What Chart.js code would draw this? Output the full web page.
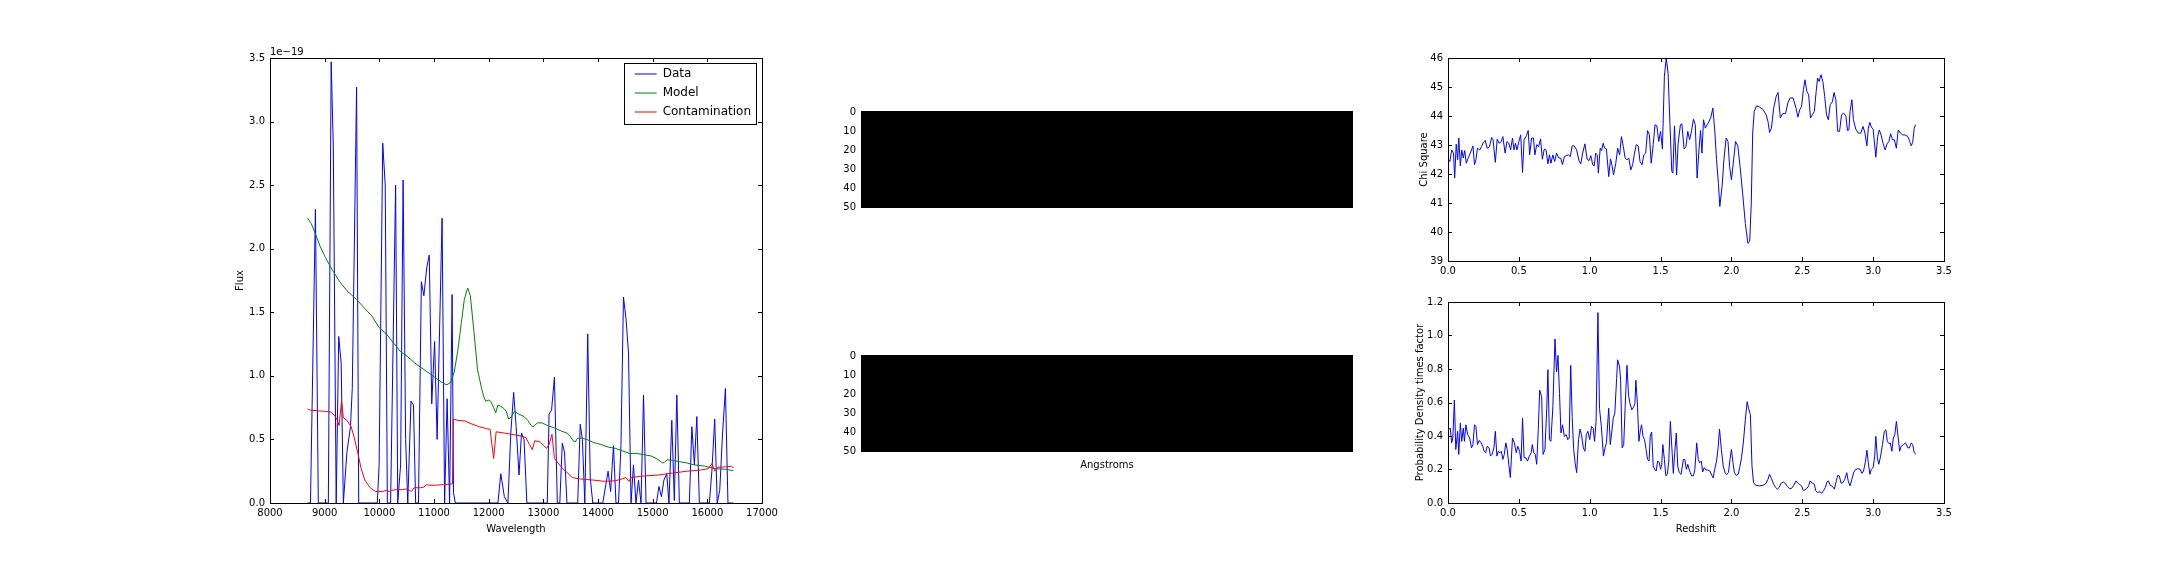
<!DOCTYPE html>
<html lang="en">
  <head>
    <meta charset="UTF-8" />
    <title>Spectrum fit and redshift</title>
    <script src="https://cdn.jsdelivr.net/npm/chart.js"></script>
    <style>
      html,
      body {
        margin: 0;
        padding: 0;
        background: #fff;
        overflow: hidden;
      }
      #figure {
        position: relative;
        width: 2160px;
        height: 576px;
        background: #fff;
      }
      #figure canvas {
        position: absolute;
        display: block;
      }
    </style>
  </head>
  <body>
    <div id="figure">
      <canvas id="spectrum"></canvas>
      <canvas id="stampTop"></canvas>
      <canvas id="stampBottom"></canvas>
      <canvas id="chiSquare"></canvas>
      <canvas id="probDensity"></canvas>
    </div>
    <script>
      // ---- data (flux in units of 1e-19) ----
      const seriesNames = ["Data", "Model", "Contamination"];
      const fluxOffsetText = "1e\u221219";

      const fluxData = [
        [8687, 0], [8740, 0], [8831, 2.31], [8884, 0], [9067, 0], [9119, 3.47], [9158, 2.8], [9211, 0],
        [9257, 1.31], [9302, 1.1], [9342, 0], [9407, 0.4], [9472, 0.6], [9505, 0.9], [9584, 3.27], [9623, 0],
        [9682, 0], [9963, 0], [9996, 0.3], [10062, 2.83], [10108, 2.5], [10147, 0], [10206, 0], [10298, 2.5],
        [10337, 0], [10389, 0.3], [10435, 2.54], [10481, 0.5], [10520, 0], [10579, 0.8], [10625, 0.77], [10664, 0],
        [10716, 0], [10769, 1.74], [10815, 1.63], [10867, 1.85], [10913, 1.95], [10959, 0.78], [11011, 1.27], [11057, 0.5],
        [11148, 2.24], [11194, 0], [11240, 0.82], [11285, 0], [11331, 1.64], [11357, 0.08], [11390, 0], [12169, 0],
        [12222, 0.23], [12287, 0.05], [12352, 0], [12405, 0.55], [12457, 0.87], [12503, 0.6], [12555, 0.22], [12601, 0.55],
        [12647, 0.5], [12699, 0], [13072, 0], [13105, 0.7], [13151, 0.73], [13203, 0.99], [13256, 0], [13301, 0],
        [13347, 0.47], [13387, 0.4], [13432, 0], [13629, 0], [13675, 0.62], [13714, 0.5], [13759, 0], [13812, 1.33],
        [13858, 0.2], [13904, 0], [14087, 0], [14185, 0.25], [14231, 0.09], [14283, 0.45], [14329, 0], [14375, 0],
        [14420, 0.45], [14466, 1.62], [14512, 1.45], [14558, 1.18], [14604, 0], [14649, 0.3], [14695, 0], [14741, 0.18],
        [14787, 0], [14833, 0.85], [14879, 0], [15003, 0], [15069, 0], [15115, 0.13], [15160, 0.05], [15206, 0.18],
        [15258, 0.23], [15298, 0], [15350, 0.65], [15396, 0.02], [15442, 0.85], [15488, 0], [15671, 0], [15717, 0.6],
        [15763, 0.3], [15808, 0.68], [15854, 0], [16037, 0], [16083, 0.25], [16135, 0.66], [16181, 0], [16227, 0.1],
        [16279, 0.55], [16331, 0.9], [16377, 0], [16476, 0],
      ];

      const modelData = [
        [8687, 2.24], [8753, 2.2], [8818, 2.13], [8916, 2.02], [9014, 1.93], [9145, 1.83], [9276, 1.74], [9407, 1.67],
        [9584, 1.6], [9734, 1.53], [9865, 1.47], [9996, 1.38], [10127, 1.33], [10258, 1.26], [10389, 1.19], [10520, 1.15],
        [10651, 1.1], [10782, 1.06], [10913, 1.02], [11044, 0.98], [11174, 0.94], [11240, 0.93], [11305, 0.95], [11370, 1.03],
        [11436, 1.2], [11501, 1.42], [11554, 1.6], [11600, 1.67], [11619, 1.69], [11665, 1.63], [11730, 1.35], [11796, 1.05],
        [11861, 0.92], [11907, 0.84], [11946, 0.8], [11992, 0.81], [12038, 0.8], [12091, 0.75], [12130, 0.71], [12169, 0.77],
        [12222, 0.76], [12287, 0.74], [12320, 0.72], [12366, 0.66], [12418, 0.68], [12470, 0.72], [12549, 0.7], [12647, 0.68],
        [12713, 0.65], [12778, 0.61], [12811, 0.6], [12844, 0.61], [12889, 0.63], [12974, 0.63], [13072, 0.61], [13203, 0.59],
        [13334, 0.565], [13432, 0.55], [13498, 0.52], [13544, 0.49], [13583, 0.48], [13629, 0.51], [13694, 0.51], [13792, 0.5],
        [13923, 0.475], [14054, 0.46], [14185, 0.44], [14316, 0.43], [14446, 0.41], [14577, 0.39], [14708, 0.39], [14839, 0.38],
        [14970, 0.37], [15069, 0.35], [15134, 0.33], [15180, 0.315], [15219, 0.32], [15265, 0.34], [15363, 0.335], [15494, 0.325],
        [15625, 0.315], [15756, 0.3], [15952, 0.29], [16148, 0.27], [16345, 0.265], [16476, 0.255],
      ];

      const contaminationData = [
        [8687, 0.74], [8740, 0.73], [8884, 0.725], [9014, 0.72], [9113, 0.715], [9178, 0.69], [9224, 0.66], [9263, 0.61],
        [9309, 0.8], [9342, 0.67], [9407, 0.65], [9485, 0.6], [9537, 0.52], [9603, 0.4], [9668, 0.27], [9734, 0.18],
        [9832, 0.12], [9930, 0.09], [10062, 0.09], [10127, 0.1], [10180, 0.09], [10225, 0.1], [10323, 0.105], [10422, 0.105],
        [10487, 0.11], [10553, 0.1], [10586, 0.09], [10638, 0.12], [10749, 0.12], [10815, 0.125], [10861, 0.145], [10913, 0.14],
        [11044, 0.14], [11174, 0.145], [11338, 0.15], [11351, 0.66], [11436, 0.65], [11567, 0.645], [11698, 0.62], [11828, 0.6],
        [11959, 0.585], [12025, 0.58], [12091, 0.35], [12137, 0.56], [12287, 0.55], [12483, 0.535], [12614, 0.525], [12680, 0.515],
        [12745, 0.46], [12798, 0.42], [12844, 0.49], [12942, 0.48], [13059, 0.43], [13105, 0.46], [13158, 0.54], [13203, 0.35],
        [13334, 0.28], [13432, 0.24], [13530, 0.2], [13661, 0.19], [13792, 0.185], [13923, 0.18], [14119, 0.17], [14316, 0.175],
        [14446, 0.19], [14512, 0.2], [14564, 0.17], [14610, 0.2], [14774, 0.21], [15101, 0.22], [15363, 0.235], [15625, 0.25],
        [15887, 0.26], [16018, 0.27], [16083, 0.31], [16135, 0.25], [16181, 0.28], [16345, 0.285], [16443, 0.29], [16476, 0.275],
      ];

      // 2D stamps (rows of pixel values, all zero -> black)
      const stampColumns = 253;
      const stampTopRows = [
        0, 0, 0, 0, 0, 0, 0, 0, 0, 0, 0, 0, 0, 0, 0, 0, 0, 0, 0, 0, 0, 0, 0, 0, 0, 0,
        0, 0, 0, 0, 0, 0, 0, 0, 0, 0, 0, 0, 0, 0, 0, 0, 0, 0, 0, 0, 0, 0, 0, 0, 0,
      ];
      const stampBottomRows = [
        0, 0, 0, 0, 0, 0, 0, 0, 0, 0, 0, 0, 0, 0, 0, 0, 0, 0, 0, 0, 0, 0, 0, 0, 0, 0,
        0, 0, 0, 0, 0, 0, 0, 0, 0, 0, 0, 0, 0, 0, 0, 0, 0, 0, 0, 0, 0, 0, 0, 0, 0,
      ];

      const chiSquareData = [
        [0.005, 42.49], [0.013, 42.43], [0.026, 42.83], [0.039, 42.72], [0.047, 41.86], [0.058, 43.03], [0.068, 42.49], [0.076, 43.24],
        [0.087, 42.28], [0.097, 42.83], [0.108, 42.55], [0.118, 42.81], [0.129, 42.37], [0.145, 42.58], [0.166, 42.83], [0.176, 42.97],
        [0.187, 42.32], [0.197, 42.49], [0.208, 42.89], [0.224, 42.83], [0.237, 42.95], [0.25, 43.09], [0.263, 43.16], [0.276, 42.89],
        [0.292, 42.93], [0.308, 43.26], [0.318, 43.18], [0.334, 42.4], [0.347, 43.2], [0.361, 43.06], [0.376, 43.12], [0.387, 43.29],
        [0.403, 42.72], [0.416, 43.12], [0.429, 43.06], [0.442, 42.83], [0.455, 43.24], [0.466, 42.83], [0.476, 43.06], [0.487, 42.83],
        [0.5, 43.12], [0.513, 43.35], [0.526, 42.05], [0.537, 43.18], [0.553, 43.32], [0.566, 43.5], [0.576, 42.66], [0.59, 43.24],
        [0.603, 43.24], [0.613, 42.66], [0.626, 43.01], [0.64, 42.95], [0.653, 43.21], [0.666, 42.51], [0.679, 42.86], [0.692, 42.83],
        [0.705, 42.35], [0.716, 42.66], [0.726, 42.37], [0.74, 42.66], [0.753, 42.43], [0.766, 42.72], [0.782, 42.55], [0.795, 42.55],
        [0.808, 42.32], [0.821, 42.6], [0.834, 42.63], [0.85, 42.66], [0.863, 42.6], [0.876, 42.97], [0.89, 42.97], [0.908, 42.83],
        [0.924, 42.46], [0.937, 42.35], [0.95, 42.72], [0.966, 43.04], [0.982, 42.51], [0.995, 42.46], [1.008, 42.63], [1.021, 42.32],
        [1.032, 42.28], [1.042, 42.72], [1.053, 42.66], [1.061, 42.03], [1.074, 42.89], [1.084, 42.81], [1.095, 43.06], [1.105, 42.89],
        [1.118, 42.86], [1.134, 41.91], [1.147, 42.52], [1.158, 42.28], [1.168, 41.97], [1.184, 42.37], [1.197, 42.89], [1.211, 42.66],
        [1.224, 43.29], [1.237, 42.95], [1.25, 42.55], [1.263, 42.49], [1.276, 42.55], [1.29, 42.14], [1.303, 42.32], [1.316, 42.72],
        [1.329, 43.01], [1.342, 42.97], [1.355, 42.43], [1.369, 42.32], [1.382, 42.66], [1.395, 42.72], [1.408, 43.5], [1.421, 43.35],
        [1.434, 42.37], [1.448, 43.01], [1.461, 43.7], [1.474, 43.66], [1.487, 43.12], [1.5, 43.47], [1.513, 42.86], [1.527, 45.37],
        [1.54, 46.0], [1.553, 45.48], [1.566, 43.75], [1.579, 42.09], [1.587, 42.03], [1.598, 43.66], [1.613, 41.97], [1.624, 43.06],
        [1.64, 43.7], [1.65, 43.73], [1.666, 42.86], [1.679, 42.95], [1.692, 43.47], [1.705, 43.18], [1.719, 43.5], [1.732, 43.89],
        [1.745, 43.7], [1.758, 41.86], [1.771, 42.83], [1.782, 43.5], [1.792, 42.72], [1.803, 43.87], [1.816, 43.58], [1.829, 43.7],
        [1.842, 43.81], [1.855, 43.96], [1.869, 44.27], [1.882, 43.52], [1.895, 42.49], [1.908, 41.68], [1.918, 40.88], [1.934, 41.57],
        [1.948, 42.55], [1.963, 43.24], [1.976, 43.12], [1.987, 42.26], [2.0, 41.8], [2.013, 42.37], [2.029, 43.12], [2.045, 42.97],
        [2.061, 42.26], [2.079, 41.34], [2.098, 40.3], [2.116, 39.61], [2.129, 39.67], [2.14, 41.0], [2.15, 43.41], [2.161, 44.16],
        [2.177, 44.35], [2.198, 44.31], [2.224, 44.22], [2.245, 44.04], [2.258, 43.81], [2.269, 43.43], [2.282, 43.58], [2.298, 44.27],
        [2.316, 44.68], [2.329, 44.81], [2.345, 43.93], [2.361, 44.08], [2.382, 44.08], [2.398, 44.45], [2.414, 44.62], [2.435, 44.62],
        [2.456, 44.27], [2.469, 43.96], [2.482, 44.22], [2.495, 44.33], [2.508, 44.91], [2.519, 45.25], [2.532, 44.85], [2.545, 44.73],
        [2.558, 43.93], [2.571, 44.04], [2.585, 44.16], [2.598, 44.85], [2.608, 45.31], [2.619, 45.19], [2.632, 45.42], [2.645, 45.19],
        [2.658, 44.68], [2.671, 44.04], [2.684, 43.87], [2.697, 44.39], [2.713, 44.5], [2.724, 44.81], [2.737, 44.56], [2.75, 43.47],
        [2.763, 43.47], [2.777, 44.04], [2.792, 44.1], [2.808, 43.99], [2.819, 43.5], [2.829, 43.52], [2.837, 44.16], [2.85, 44.56],
        [2.861, 43.87], [2.877, 43.55], [2.895, 43.41], [2.913, 43.41], [2.929, 43.64], [2.942, 43.41], [2.956, 42.97], [2.966, 43.58],
        [2.977, 43.78], [2.987, 43.62], [3.0, 43.55], [3.019, 42.58], [3.032, 43.29], [3.043, 43.52], [3.056, 43.35], [3.071, 43.04],
        [3.085, 42.83], [3.098, 43.04], [3.111, 43.12], [3.124, 43.39], [3.137, 43.18], [3.15, 43.18], [3.164, 42.89], [3.177, 43.52],
        [3.193, 43.41], [3.208, 43.35], [3.224, 43.35], [3.245, 43.29], [3.258, 43.12], [3.269, 42.97], [3.279, 43.09], [3.29, 43.58],
        [3.3, 43.7],
      ];

      const probDensityData = [
        [0.005, 0.437], [0.016, 0.447], [0.026, 0.359], [0.034, 0.388], [0.045, 0.615], [0.055, 0.319], [0.068, 0.428], [0.076, 0.29],
        [0.087, 0.477], [0.097, 0.368], [0.108, 0.447], [0.116, 0.368], [0.126, 0.467], [0.139, 0.408], [0.153, 0.388], [0.166, 0.329],
        [0.176, 0.349], [0.187, 0.467], [0.197, 0.457], [0.208, 0.349], [0.221, 0.374], [0.234, 0.359], [0.245, 0.339], [0.255, 0.309],
        [0.266, 0.3], [0.276, 0.339], [0.29, 0.329], [0.3, 0.28], [0.311, 0.29], [0.324, 0.329], [0.334, 0.428], [0.345, 0.28],
        [0.355, 0.309], [0.366, 0.3], [0.376, 0.309], [0.387, 0.26], [0.397, 0.29], [0.408, 0.359], [0.418, 0.319], [0.429, 0.231],
        [0.44, 0.152], [0.455, 0.388], [0.468, 0.359], [0.482, 0.3], [0.492, 0.339], [0.505, 0.309], [0.516, 0.25], [0.526, 0.506],
        [0.537, 0.27], [0.55, 0.27], [0.561, 0.25], [0.574, 0.28], [0.587, 0.3], [0.595, 0.349], [0.605, 0.3], [0.616, 0.29],
        [0.626, 0.231], [0.637, 0.437], [0.647, 0.674], [0.661, 0.634], [0.671, 0.29], [0.684, 0.319], [0.697, 0.566], [0.705, 0.796],
        [0.716, 0.378], [0.726, 0.368], [0.74, 0.575], [0.755, 0.979], [0.766, 0.782], [0.776, 0.881], [0.787, 0.654], [0.797, 0.418],
        [0.808, 0.467], [0.821, 0.398], [0.834, 0.408], [0.845, 0.378], [0.855, 0.388], [0.866, 0.822], [0.876, 0.516], [0.887, 0.319],
        [0.897, 0.24], [0.908, 0.181], [0.921, 0.378], [0.932, 0.441], [0.942, 0.408], [0.955, 0.329], [0.966, 0.309], [0.976, 0.408],
        [0.987, 0.428], [1.0, 0.378], [1.013, 0.457], [1.024, 0.447], [1.034, 0.368], [1.045, 0.487], [1.058, 1.137], [1.069, 0.566],
        [1.082, 0.457], [1.097, 0.28], [1.108, 0.329], [1.118, 0.359], [1.134, 0.566], [1.145, 0.349], [1.155, 0.418], [1.166, 0.506],
        [1.177, 0.536], [1.19, 0.743], [1.197, 0.855], [1.211, 0.812], [1.218, 0.733], [1.229, 0.329], [1.24, 0.349], [1.25, 0.575],
        [1.263, 0.822], [1.274, 0.644], [1.284, 0.595], [1.297, 0.556], [1.311, 0.575], [1.319, 0.595], [1.326, 0.733], [1.337, 0.585],
        [1.347, 0.368], [1.358, 0.437], [1.366, 0.467], [1.376, 0.398], [1.387, 0.378], [1.398, 0.319], [1.408, 0.26], [1.419, 0.25],
        [1.427, 0.398], [1.437, 0.424], [1.448, 0.221], [1.458, 0.201], [1.469, 0.191], [1.479, 0.25], [1.49, 0.244], [1.5, 0.201],
        [1.508, 0.231], [1.516, 0.349], [1.527, 0.26], [1.537, 0.162], [1.548, 0.171], [1.558, 0.25], [1.569, 0.487], [1.579, 0.339],
        [1.59, 0.177], [1.6, 0.3], [1.611, 0.418], [1.621, 0.221], [1.632, 0.181], [1.645, 0.171], [1.661, 0.26], [1.671, 0.26],
        [1.682, 0.201], [1.692, 0.231], [1.705, 0.191], [1.719, 0.162], [1.732, 0.162], [1.742, 0.201], [1.755, 0.359], [1.766, 0.26],
        [1.776, 0.24], [1.787, 0.25], [1.797, 0.185], [1.808, 0.211], [1.821, 0.197], [1.834, 0.197], [1.848, 0.191], [1.863, 0.162],
        [1.871, 0.15], [1.882, 0.201], [1.895, 0.25], [1.906, 0.329], [1.916, 0.441], [1.929, 0.319], [1.942, 0.221], [1.955, 0.181],
        [1.966, 0.171], [1.979, 0.181], [1.99, 0.26], [2.0, 0.319], [2.011, 0.24], [2.021, 0.181], [2.034, 0.165], [2.048, 0.171],
        [2.058, 0.211], [2.071, 0.27], [2.084, 0.359], [2.098, 0.497], [2.111, 0.605], [2.121, 0.566], [2.134, 0.526], [2.145, 0.221],
        [2.156, 0.122], [2.171, 0.106], [2.198, 0.102], [2.224, 0.106], [2.245, 0.118], [2.258, 0.142], [2.269, 0.171], [2.282, 0.146],
        [2.298, 0.112], [2.311, 0.093], [2.324, 0.083], [2.337, 0.093], [2.35, 0.118], [2.366, 0.126], [2.379, 0.118], [2.395, 0.099],
        [2.408, 0.087], [2.424, 0.087], [2.44, 0.106], [2.456, 0.132], [2.469, 0.118], [2.482, 0.11], [2.495, 0.102], [2.508, 0.073],
        [2.519, 0.079], [2.532, 0.087], [2.545, 0.102], [2.555, 0.132], [2.571, 0.118], [2.585, 0.112], [2.595, 0.073], [2.608, 0.063],
        [2.624, 0.067], [2.637, 0.059], [2.65, 0.073], [2.663, 0.093], [2.674, 0.126], [2.684, 0.132], [2.697, 0.106], [2.713, 0.099],
        [2.726, 0.083], [2.74, 0.132], [2.75, 0.165], [2.761, 0.162], [2.774, 0.118], [2.787, 0.122], [2.8, 0.142], [2.814, 0.181],
        [2.824, 0.132], [2.837, 0.102], [2.85, 0.142], [2.864, 0.185], [2.877, 0.201], [2.895, 0.205], [2.908, 0.201], [2.921, 0.177],
        [2.932, 0.191], [2.945, 0.244], [2.956, 0.315], [2.966, 0.24], [2.977, 0.171], [2.987, 0.201], [3.0, 0.211], [3.011, 0.28],
        [3.019, 0.398], [3.03, 0.27], [3.04, 0.231], [3.053, 0.28], [3.066, 0.349], [3.079, 0.428], [3.09, 0.437], [3.1, 0.368],
        [3.111, 0.355], [3.121, 0.359], [3.132, 0.309], [3.142, 0.388], [3.153, 0.408], [3.164, 0.487], [3.177, 0.388], [3.187, 0.309],
        [3.198, 0.339], [3.214, 0.349], [3.229, 0.359], [3.245, 0.329], [3.256, 0.329], [3.269, 0.359], [3.279, 0.349], [3.29, 0.3],
        [3.303, 0.29],
      ];

      // tick labels
      const wavelengthTicks = [8000, 9000, 10000, 11000, 12000, 13000, 14000, 15000, 16000, 17000];
      const fluxTicks = [0, 0.5, 1, 1.5, 2, 2.5, 3, 3.5];
      const stampRowTicks = [0, 10, 20, 30, 40, 50];
      const redshiftTicks = [0, 0.5, 1, 1.5, 2, 2.5, 3, 3.5];
      const chiTicks = [39, 40, 41, 42, 43, 44, 45, 46];
      const probTicks = [0, 0.2, 0.4, 0.6, 0.8, 1.0, 1.2];

      // ---- layout: plot boxes in page pixels, margins around them ----
      const panels = {
        spectrum: { x: 270, y: 58, w: 492, h: 445, m: { l: 36, t: 20, r: 24, b: 32 } },
        stampTop: { x: 861, y: 110, w: 492, h: 99, m: { l: 30, t: 10, r: 10, b: 10 } },
        stampBottom: { x: 861, y: 354, w: 492, h: 98, m: { l: 30, t: 10, r: 10, b: 19 } },
        chiSquare: { x: 1448, y: 58, w: 496, h: 203, m: { l: 30, t: 12, r: 24, b: 22 } },
        probDensity: { x: 1448, y: 302, w: 496, h: 201, m: { l: 34, t: 12, r: 24, b: 32 } },
      };

      Chart.defaults.font.family = "'DejaVu Sans', sans-serif";
      Chart.defaults.font.size = 10;
      Chart.defaults.color = "#000";
      Chart.defaults.animation = false;
      Chart.defaults.events = [];

      const fmt1 = (v) => Number(v).toFixed(1);
      const fmtInt = (v) => String(Math.round(v));
      const toPoints = (pairs) => pairs.map((p) => ({ x: p[0], y: p[1] }));
      const gray = (v) => {
        const c = Math.round(255 * v);
        return "rgb(" + c + "," + c + "," + c + ")";
      };

      function setupCanvas(id) {
        const p = panels[id];
        const cv = document.getElementById(id);
        const w = p.w + p.m.l + p.m.r;
        const h = p.h + p.m.t + p.m.b;
        cv.width = w;
        cv.height = h;
        cv.style.width = w + "px";
        cv.style.height = h + "px";
        cv.style.left = p.x - p.m.l + "px";
        cv.style.top = p.y - p.m.t + "px";
        return cv;
      }

      function axis(min, max, tickValues, format, size, title, pad) {
        return {
          type: "linear",
          min: min,
          max: max,
          grid: { display: false, drawTicks: false },
          border: { display: false },
          ticks: { autoSkip: false, maxRotation: 0, minRotation: 0, padding: pad, callback: format },
          afterBuildTicks: (s) => {
            s.ticks = tickValues.map((v) => ({ value: v }));
          },
          afterFit: (s) => {
            if (s.isHorizontal()) s.height = size;
            else s.width = size;
          },
          title: { display: !!title, text: title || "", padding: 0 },
        };
      }

      // frame with inward ticks on all four sides
      const frameTicks = {
        id: "frameTicks",
        afterDatasetsDraw(chart) {
          const { ctx, chartArea: a } = chart;
          const xs = chart.scales.x;
          const ys = chart.scales.y;
          const len = 4;
          ctx.save();
          ctx.strokeStyle = "#000";
          ctx.lineWidth = 1;
          ctx.beginPath();
          xs.ticks.forEach((t) => {
            const px = Math.round(xs.getPixelForValue(t.value)) + 0.5;
            ctx.moveTo(px, a.bottom);
            ctx.lineTo(px, a.bottom - len);
            ctx.moveTo(px, a.top);
            ctx.lineTo(px, a.top + len);
          });
          ys.ticks.forEach((t) => {
            const py = Math.round(ys.getPixelForValue(t.value)) + 0.5;
            ctx.moveTo(a.left, py);
            ctx.lineTo(a.left + len, py);
            ctx.moveTo(a.right, py);
            ctx.lineTo(a.right - len, py);
          });
          ctx.stroke();
          ctx.strokeRect(a.left + 0.5, a.top + 0.5, a.right - a.left, a.bottom - a.top);
          ctx.restore();
        },
      };

      // axis offset text above the flux axis
      const offsetLabel = {
        id: "offsetLabel",
        afterDraw(chart) {
          const { ctx, chartArea } = chart;
          ctx.save();
          ctx.font = "10px 'DejaVu Sans', sans-serif";
          ctx.fillStyle = "#000";
          ctx.textAlign = "left";
          ctx.textBaseline = "alphabetic";
          ctx.fillText(fluxOffsetText, chartArea.left, chartArea.top - 3);
          ctx.restore();
        },
      };

      // move the legend to the upper right of the plot and frame it
      const legendBoxW = 132;
      const legendFrame = {
        id: "legendFrame",
        afterLayout(chart) {
          const lg = chart.legend;
          const a = chart.chartArea;
          lg.left = a.right - 6 - lg.width + 5;
          lg.right = lg.left + lg.width;
          lg.top = a.top + 3;
          lg.bottom = lg.top + lg.height;
        },
        afterDraw(chart) {
          const a = chart.chartArea;
          const ctx = chart.ctx;
          ctx.save();
          ctx.strokeStyle = "#000";
          ctx.lineWidth = 1;
          ctx.strokeRect(a.right - 6 - legendBoxW + 0.5, a.top + 5.5, legendBoxW, 61);
          ctx.restore();
        },
      };

      function lineSet(label, pairs, color, order) {
        return {
          label: label,
          data: toPoints(pairs),
          borderColor: color,
          backgroundColor: color,
          borderWidth: 1,
          pointRadius: 0,
          tension: 0,
          fill: false,
          order: order,
        };
      }

      // left: spectrum
      const sp = panels.spectrum;
      new Chart(setupCanvas("spectrum"), {
        type: "line",
        data: {
          datasets: [
            lineSet(seriesNames[0], fluxData, "#0000ff", 3),
            lineSet(seriesNames[1], modelData, "#008000", 2),
            lineSet(seriesNames[2], contaminationData, "#ff0000", 1),
          ],
        },
        options: {
          responsive: false,
          layout: { padding: { left: 0, top: sp.m.t, right: sp.m.r, bottom: 0 } },
          plugins: {
            tooltip: { enabled: false },
            legend: {
              display: true,
              position: "chartArea",
              align: "start",
              reverse: true,
              labels: {
                usePointStyle: true,
                pointStyle: "line",
                pointStyleWidth: 22,
                padding: 7,
                color: "#000",
                font: { size: 12 },
              },
            },
          },
          scales: {
            x: axis(8000, 17000, wavelengthTicks, fmtInt, sp.m.b, "Wavelength", 4),
            y: axis(0, 3.5, fluxTicks, fmt1, sp.m.l, "Flux", 5),
          },
        },
        plugins: [frameTicks, offsetLabel, legendFrame],
      });

      // middle: 2D stamps
      function stampChart(id, rows, title) {
        const p = panels[id];
        const xAx = axis(-0.5, stampColumns - 0.5, [], fmtInt, p.m.b, title, 3);
        xAx.ticks.display = false;
        const yAx = axis(-0.5, rows.length - 0.5, stampRowTicks, fmtInt, p.m.l, "", 5);
        yAx.reverse = true;
        yAx.offset = false;
        new Chart(setupCanvas(id), {
          type: "bar",
          data: {
            datasets: [
              {
                data: rows.map((v, i) => ({ y: i, x: [-0.5, stampColumns - 0.5] })),
                backgroundColor: (c) => gray(rows[c.dataIndex]),
                borderWidth: 0,
                barPercentage: 1,
                categoryPercentage: 1,
                inflateAmount: 1,
                clip: 0,
              },
            ],
          },
          options: {
            responsive: false,
            indexAxis: "y",
            layout: { padding: { left: 0, top: p.m.t, right: p.m.r, bottom: 0 } },
            plugins: { legend: { display: false }, tooltip: { enabled: false } },
            scales: { x: xAx, y: yAx },
          },
        });
      }
      stampChart("stampTop", stampTopRows, "");
      stampChart("stampBottom", stampBottomRows, "Angstroms");

      // right: redshift panels
      function redshiftChart(id, pairs, yMin, yMax, yTicks, yFmt, yTitle, xTitle) {
        const p = panels[id];
        new Chart(setupCanvas(id), {
          type: "line",
          data: { datasets: [lineSet(yTitle, pairs, "#0000ff", 0)] },
          options: {
            responsive: false,
            layout: { padding: { left: 0, top: p.m.t, right: p.m.r, bottom: 0 } },
            plugins: { legend: { display: false }, tooltip: { enabled: false } },
            scales: {
              x: axis(0, 3.5, redshiftTicks, fmt1, p.m.b, xTitle, 4),
              y: axis(yMin, yMax, yTicks, yFmt, p.m.l, yTitle, 5),
            },
          },
          plugins: [frameTicks],
        });
      }
      redshiftChart("chiSquare", chiSquareData, 39, 46, chiTicks, fmtInt, "Chi Square", "");
      redshiftChart("probDensity", probDensityData, 0, 1.2, probTicks, fmt1, "Probability Density times factor", "Redshift");
    </script>
  </body>
</html>
